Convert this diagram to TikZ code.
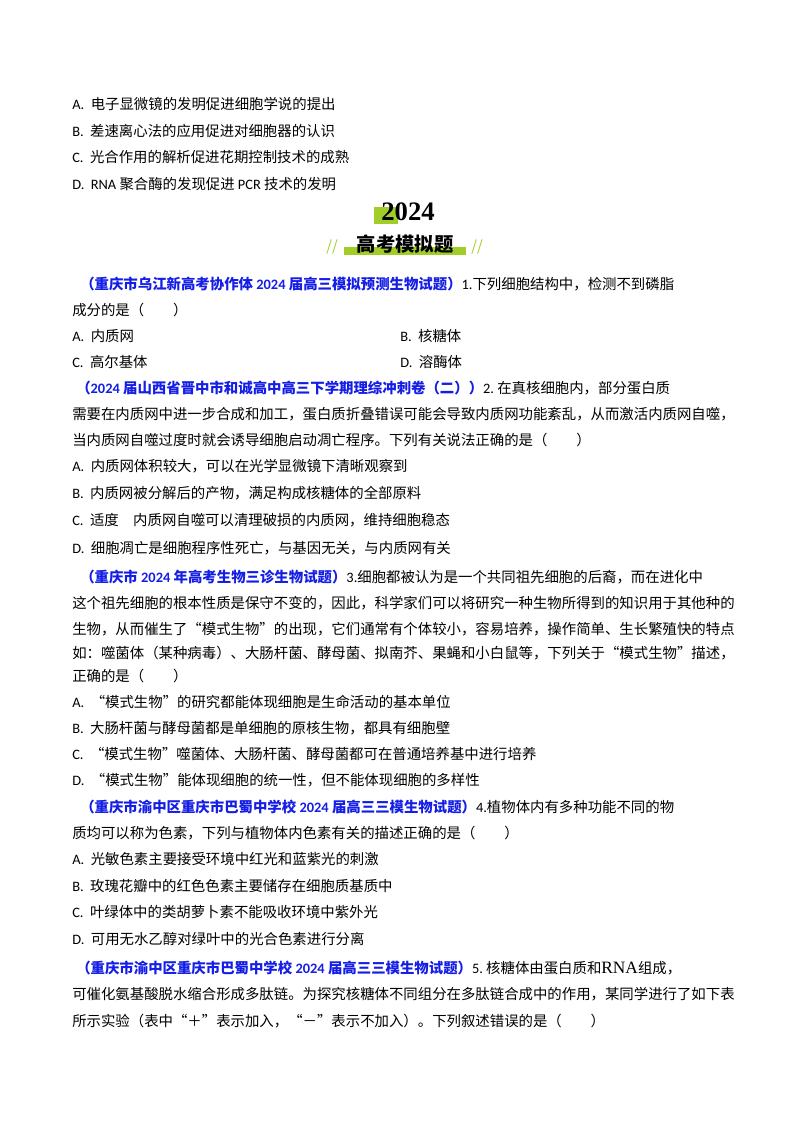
\documentclass[tikz,border=0pt]{standalone}
\usepackage{fontspec}
\setmainfont{Noto Sans CJK SC}
\newfontfamily\latf{Carlito}
\newfontfamily\serf{Liberation Serif}
\definecolor{qblue}{RGB}{20,30,230}
\definecolor{lgreen}{RGB}{160,205,40}
\newcommand{\opt}[1]{{\latf #1.}\ \ }
\begin{document}
\begin{tikzpicture}[x=0.75pt,y=-0.75pt,
  tl/.style={anchor=west,inner sep=0pt,font=\fontsize{10.8}{12}\selectfont},
  hd/.style={text=qblue,font=\fontsize{10.6}{12}\selectfont\bfseries}]
\useasboundingbox[fill=white] (0,0) rectangle (800,1132);
\node[tl] (a0) at (72,104) {\opt{A}电子显微镜的发明促进细胞学说的提出};
\node[tl] (b0) at (72,131) {\opt{B}差速离心法的应用促进对细胞器的认识};
\node[tl] (c0) at (72,157) {\opt{C}光合作用的解析促进花期控制技术的成熟};
\node[tl] (d0) at (72,184) {\opt{D}{\latf RNA} 聚合酶的发现促进 {\latf PCR} 技术的发明};
% banner
\fill[lgreen] (374,207) rectangle (398,224);
\node[inner sep=0pt,font=\serf\fontsize{20}{21}\selectfont\bfseries] (yr) at (408,212) {2024};
\fill[lgreen] (344,247) rectangle (466,255);
\node[inner sep=0pt,font=\fontsize{14.5}{16}\selectfont\bfseries] (ttl) at (405,244) {高考模拟题};
\node[inner sep=0pt,text=lgreen,font=\fontsize{11}{12}\selectfont\itshape] (sl1) at (332,247) {//};
\node[inner sep=0pt,text=lgreen,font=\fontsize{11}{12}\selectfont\itshape] (sl2) at (477,247) {//};
% Q1
\node[tl] (q1) at (80,284) {\textcolor{qblue}{\bfseries （重庆市乌江新高考协作体 {\latf 2024} 届高三模拟预测生物试题）}{\latf 1.}下列细胞结构中，检测不到磷脂};
\node[tl] (q1b) at (72,310) {成分的是（\qquad ）};
\node[tl] (q1a) at (72,336) {\opt{A}内质网};
\node[tl] (q1bb) at (400,336) {\opt{B}核糖体};
\node[tl] (q1c) at (72,362) {\opt{C}高尔基体};
\node[tl] (q1d) at (400,362) {\opt{D}溶酶体};
% Q2
\node[tl] (q2) at (76,388) {\textcolor{qblue}{\bfseries （{\latf 2024} 届山西省晋中市和诚高中高三下学期理综冲刺卷（二））}{\latf 2.}\ 在真核细胞内，部分蛋白质};
\node[tl] (q2b) at (72,414) {需要在内质网中进一步合成和加工，蛋白质折叠错误可能会导致内质网功能紊乱，从而激活内质网自噬，};
\node[tl] (q2c) at (72,440) {当内质网自噬过度时就会诱导细胞启动凋亡程序。下列有关说法正确的是（\qquad ）};
\node[tl] (q2A) at (72,466) {\opt{A}内质网体积较大，可以在光学显微镜下清晰观察到};
\node[tl] (q2B) at (72,493) {\opt{B}内质网被分解后的产物，满足构成核糖体的全部原料};
\node[tl] (q2C) at (72,520) {\opt{C}适度\quad 内质网自噬可以清理破损的内质网，维持细胞稳态};
\node[tl] (q2D) at (72,548) {\opt{D}细胞凋亡是细胞程序性死亡，与基因无关，与内质网有关};
% Q3
\node[tl] (q3) at (80,577) {\textcolor{qblue}{\bfseries （重庆市 {\latf 2024} 年高考生物三诊生物试题）}{\latf 3.}细胞都被认为是一个共同祖先细胞的后裔，而在进化中};
\node[tl] (q3b) at (72,603) {这个祖先细胞的根本性质是保守不变的，因此，科学家们可以将研究一种生物所得到的知识用于其他种的};
\node[tl] (q3c) at (72,629) {生物，从而催生了“模式生物”的出现，它们通常有个体较小，容易培养，操作简单、生长繁殖快的特点};
\node[tl] (q3d) at (72,653) {如：噬菌体（某种病毒）、大肠杆菌、酵母菌、拟南芥、果蝇和小白鼠等，下列关于“模式生物”描述，};
\node[tl] (q3e) at (72,676) {正确的是（\qquad ）};
\node[tl] (q3A) at (72,702) {\opt{A}“模式生物”的研究都能体现细胞是生命活动的基本单位};
\node[tl] (q3B) at (72,728) {\opt{B}大肠杆菌与酵母菌都是单细胞的原核生物，都具有细胞壁};
\node[tl] (q3C) at (72,754) {\opt{C}“模式生物”噬菌体、大肠杆菌、酵母菌都可在普通培养基中进行培养};
\node[tl] (q3D) at (72,780) {\opt{D}“模式生物”能体现细胞的统一性，但不能体现细胞的多样性};
% Q4
\node[tl] (q4) at (80,807) {\textcolor{qblue}{\bfseries （重庆市渝中区重庆市巴蜀中学校 {\latf 2024} 届高三三模生物试题）}{\latf 4.}植物体内有多种功能不同的物};
\node[tl] (q4b) at (72,833) {质均可以称为色素，下列与植物体内色素有关的描述正确的是（\qquad ）};
\node[tl] (q4A) at (72,859) {\opt{A}光敏色素主要接受环境中红光和蓝紫光的刺激};
\node[tl] (q4B) at (72,886) {\opt{B}玫瑰花瓣中的红色色素主要储存在细胞质基质中};
\node[tl] (q4C) at (72,912) {\opt{C}叶绿体中的类胡萝卜素不能吸收环境中紫外光};
\node[tl] (q4D) at (72,939) {\opt{D}可用无水乙醇对绿叶中的光合色素进行分离};
% Q5
\node[tl] (q5) at (76,968) {\textcolor{qblue}{\bfseries （重庆市渝中区重庆市巴蜀中学校 {\latf 2024} 届高三三模生物试题）}{\latf 5.}\ 核糖体由蛋白质和{\serf\fontsize{13}{14}\selectfont RNA}组成，};
\node[tl] (q5b) at (72,994) {可催化氨基酸脱水缩合形成多肽链。为探究核糖体不同组分在多肽链合成中的作用，某同学进行了如下表};
\node[tl] (q5c) at (72,1021) {所示实验（表中“＋”表示加入，“－”表示不加入）。下列叙述错误的是（\qquad ）};
\end{tikzpicture}
\end{document}
